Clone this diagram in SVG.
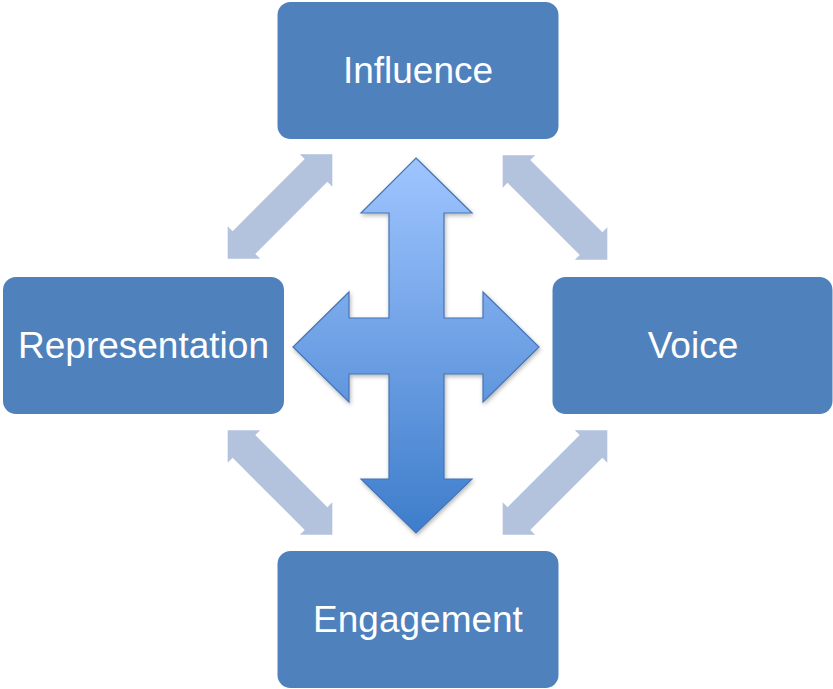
<svg xmlns="http://www.w3.org/2000/svg" width="833" height="689" viewBox="0 0 833 689">
<style>
.box{fill:#4F81BD;}
.lbl{font-family:"Liberation Sans",Arial,sans-serif;font-size:37px;fill:#FFFFFF;text-anchor:middle;}
.dia{fill:#B3C3DE;}
</style>
<defs>
<linearGradient id="g" x1="0" y1="0" x2="0" y2="1">
<stop offset="0" stop-color="#9FC5FF"/>
<stop offset="1" stop-color="#3E7DCB"/>
</linearGradient>
<filter id="sh" x="-10%" y="-10%" width="120%" height="120%">
<feDropShadow dx="1" dy="2" stdDeviation="2" flood-color="#000" flood-opacity="0.3"/>
</filter>
<polygon id="dbl" points="-74,0 -51,-23 -51,-16 51,-16 51,-23 74,0 51,23 51,16 -51,16 -51,23"/>
</defs>
<g id="connectors">
<use href="#dbl" class="dia" transform="translate(280,206.5) rotate(-45)"/>
<use href="#dbl" class="dia" transform="translate(555,207.5) rotate(45)"/>
<use href="#dbl" class="dia" transform="translate(280,482.5) rotate(45)"/>
<use href="#dbl" class="dia" transform="translate(555,482.5) rotate(-45)"/>
</g>
<g id="center-arrow">
<polygon points="416,158 472,213 444,213 444,318 483,318 483,292 539,347 483,402 483,374 444,374 444,479 472,479 416,533 361,479 389,479 389,374 349,374 349,402 293,347 349,292 349,318 389,318 389,213 361,213" fill="url(#g)" stroke="#4575B5" stroke-width="1.2" stroke-linejoin="miter" filter="url(#sh)"/>
</g>
<g id="influence">
<rect class="box" x="277.5" y="2" width="281" height="137" rx="13"/>
<text class="lbl" x="418" y="83">Influence</text>
</g>
<g id="representation">
<rect class="box" x="3" y="277" width="281" height="137" rx="13"/>
<text class="lbl" x="143.5" y="358">Representation</text>
</g>
<g id="voice">
<rect class="box" x="552.5" y="277" width="280" height="137" rx="13"/>
<text class="lbl" x="693" y="358">Voice</text>
</g>
<g id="engagement">
<rect class="box" x="277.5" y="551" width="281" height="137" rx="13"/>
<text class="lbl" x="418" y="632">Engagement</text>
</g>
</svg>
